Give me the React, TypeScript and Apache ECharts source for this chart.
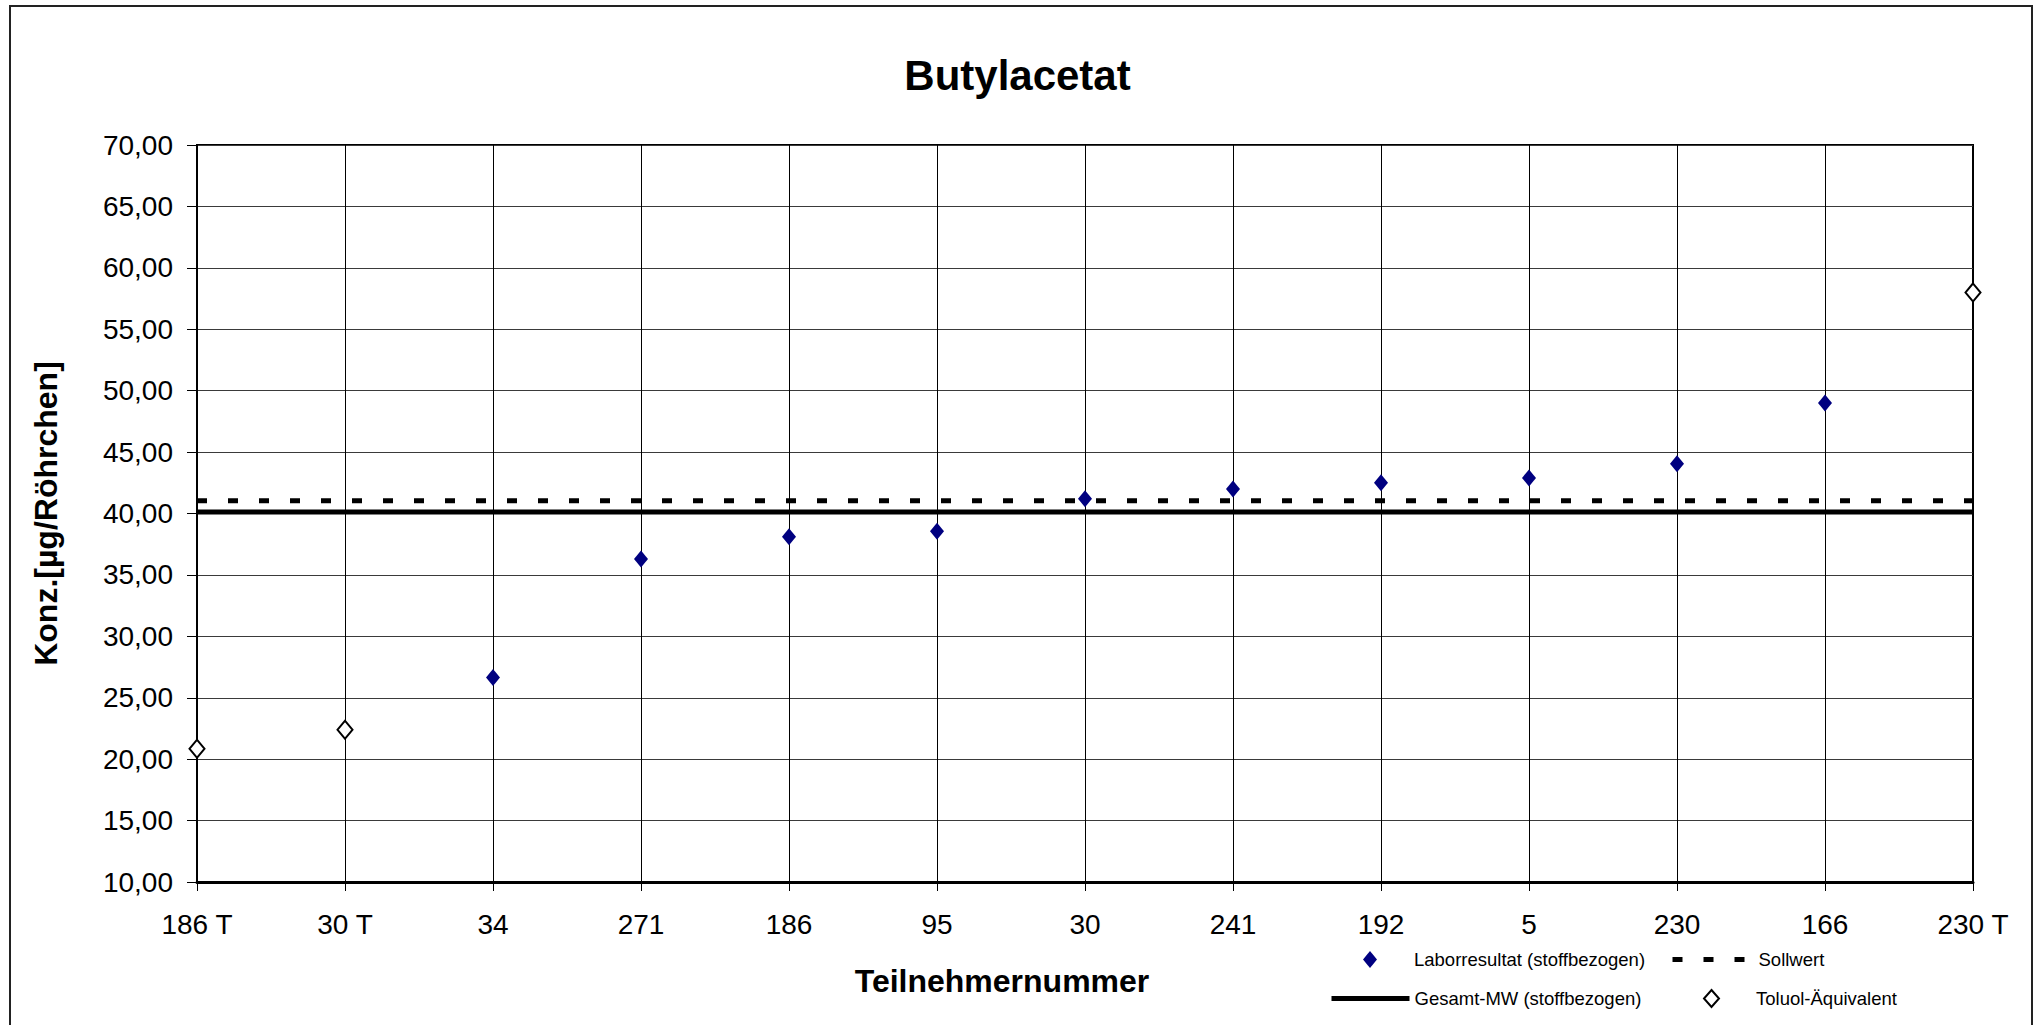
import React, { useEffect, useRef } from "react";
import * as echarts from "echarts";

const FONT = "'Liberation Sans', Arial, sans-serif";

const chartTitle = "Butylacetat";
const xAxisTitle = "Teilnehmernummer";
const yAxisTitle = "Konz.[µg/Röhrchen]";

const categories = ["186 T", "30 T", "34", "271", "186", "95", "30", "241", "192", "5", "230", "166", "230 T"];
const laborresultat: (number | null)[] = [null, null, 26.65, 36.3, 38.1, 38.55, 41.2, 42.0, 42.5, 42.9, 44.05, 49.0, null];
const toluolAequivalent: (number | null)[] = [20.85, 22.4, null, null, null, null, null, null, null, null, null, null, 58.0];
const sollwert = 41.04;
const gesamtMW = 40.12;

const yMin = 10;
const yMax = 70;
const yStep = 5;

const NAME_LABOR = "Laborresultat (stoffbezogen)";
const NAME_SOLL = "Sollwert";
const NAME_MW = "Gesamt-MW (stoffbezogen)";
const NAME_TOLUOL = "Toluol-Äquivalent";

const DASH = [10, 21];

export default function App() {
  const ref = useRef<HTMLDivElement>(null);

  useEffect(() => {
    if (!ref.current) return;
    const chart = echarts.init(ref.current, null, { renderer: "svg" });
    const toData = (arr: (number | null)[]) => arr.map((v) => (v === null ? "-" : v));
    const first = categories[0];
    const last = categories[categories.length - 1];

    const legendText = { fontFamily: FONT, fontSize: 18.5, color: "#000" };
    const noSymbol = { color: "rgba(0,0,0,0)", borderWidth: 0, opacity: 0 };

    chart.setOption({
      animation: false,
      backgroundColor: "#fff",
      title: {
        text: chartTitle,
        left: "center",
        top: 49,
        textStyle: { fontFamily: FONT, fontSize: 42, fontWeight: "bold", color: "#000" },
      },
      grid: {
        left: 197,
        top: 145,
        right: 62,
        bottom: 143,
        show: true,
        borderColor: "#000",
        borderWidth: 2,
        backgroundColor: "#fff",
      },
      legend: [
        {
          data: [NAME_LABOR],
          left: 1363,
          top: 950,
          padding: 0,
          itemWidth: 14,
          itemHeight: 17,
          textStyle: { ...legendText, padding: [0, 0, 0, 32] },
        },
        {
          data: [NAME_SOLL],
          left: 1670,
          top: 950,
          padding: 0,
          itemWidth: 73,
          itemHeight: 17,
          itemStyle: noSymbol,
          lineStyle: { color: "#000", width: 5, type: DASH },
          textStyle: { ...legendText, padding: [0, 0, 0, 8] },
        },
        {
          data: [NAME_MW],
          left: 1329,
          top: 989,
          padding: 0,
          itemWidth: 78,
          itemHeight: 17,
          itemStyle: noSymbol,
          lineStyle: { color: "#000", width: 5, type: "solid" },
          textStyle: { ...legendText },
        },
        {
          data: [NAME_TOLUOL],
          left: 1703,
          top: 989,
          padding: 0,
          itemWidth: 15,
          itemHeight: 17,
          textStyle: { ...legendText, padding: [0, 0, 0, 32] },
        },
      ],
      xAxis: {
        type: "category",
        data: categories,
        boundaryGap: false,
        name: xAxisTitle,
        nameLocation: "middle",
        nameGap: 83,
        nameTextStyle: {
          fontFamily: FONT,
          fontSize: 32,
          fontWeight: "bold",
          color: "#000",
          padding: [0, 166, 0, 0],
        },
        axisLine: { show: true, lineStyle: { color: "#000", width: 3 } },
        axisTick: { show: true, length: 9, lineStyle: { color: "#000", width: 1 } },
        axisLabel: { fontFamily: FONT, fontSize: 28, color: "#000", margin: 28, interval: 0 },
        splitLine: { show: true, lineStyle: { color: "#000", width: 1 } },
      },
      yAxis: {
        type: "value",
        min: yMin,
        max: yMax,
        interval: yStep,
        name: yAxisTitle,
        nameLocation: "middle",
        nameGap: 135,
        nameTextStyle: { fontFamily: FONT, fontSize: 32, fontWeight: "bold", color: "#000" },
        axisLine: { show: true, lineStyle: { color: "#000", width: 2 } },
        axisTick: { show: true, length: 10, lineStyle: { color: "#000", width: 1 } },
        axisLabel: {
          fontFamily: FONT,
          fontSize: 28,
          color: "#000",
          margin: 24,
          formatter: (v: number) => v.toFixed(2).replace(".", ","),
        },
        splitLine: { show: true, lineStyle: { color: "#3a3a3a", width: 1 } },
      },
      graphic: [
        {
          type: "rect",
          shape: { x: 10, y: 6, width: 2022, height: 1040 },
          style: { fill: "none", stroke: "#222", lineWidth: 2 },
          silent: true,
          z: -10,
        },
      ],
      series: [
        {
          name: NAME_SOLL,
          type: "line",
          data: [[first, sollwert], [last, sollwert]],
          symbol: "none",
          lineStyle: { color: "#000", width: 5, type: DASH },
          itemStyle: { color: "#000" },
          z: 3,
        },
        {
          name: NAME_MW,
          type: "line",
          data: [[first, gesamtMW], [last, gesamtMW]],
          symbol: "none",
          lineStyle: { color: "#000", width: 5 },
          itemStyle: { color: "#000" },
          z: 3,
        },
        {
          name: NAME_LABOR,
          type: "scatter",
          data: toData(laborresultat),
          symbol: "diamond",
          symbolSize: [14, 17],
          itemStyle: { color: "#000080", opacity: 1 },
          z: 5,
        },
        {
          name: NAME_TOLUOL,
          type: "scatter",
          data: toData(toluolAequivalent),
          symbol: "diamond",
          symbolSize: [15, 18],
          itemStyle: { color: "#fff", borderColor: "#000", borderWidth: 2, opacity: 1 },
          z: 5,
        },
      ],
    });

    return () => chart.dispose();
  }, []);

  return (
    <div
      ref={ref}
      style={{ position: "fixed", left: 0, top: 0, width: 2035, height: 1025, background: "#fff" }}
    />
  );
}
